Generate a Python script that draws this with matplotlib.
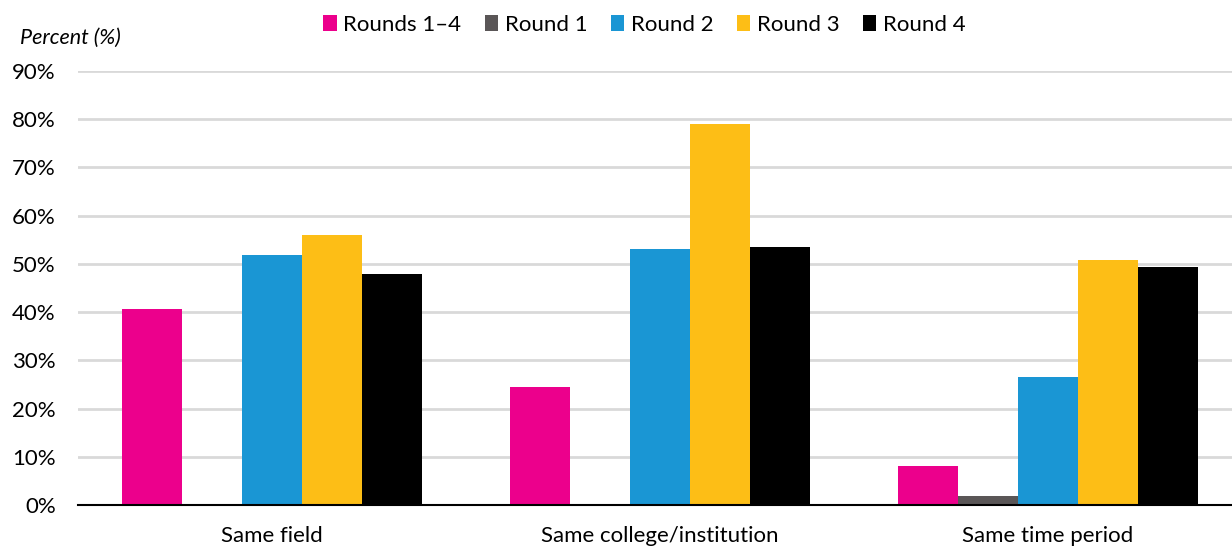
import matplotlib
matplotlib.use("Agg")
import matplotlib.pyplot as plt
import numpy as np
from matplotlib.patches import Patch

plt.rcParams["font.family"] = ["Lato", "DejaVu Sans"]

categories = ["Same field", "Same college/institution", "Same time period"]
series_names = ["Rounds 1\u20134", "Round 1", "Round 2", "Round 3", "Round 4"]
rounds_1_4 = [40.6, 24.5, 8.1]
round_1 = [np.nan, np.nan, 1.9]
round_2 = [51.8, 53.1, 26.6]
round_3 = [56.0, 79.0, 50.8]
round_4 = [47.8, 53.5, 49.3]
colors = ["#EC008C", "#5A5657", "#1A96D4", "#FDBE16", "#000000"]

series = [rounds_1_4, round_1, round_2, round_3, round_4]

fig = plt.figure(figsize=(12.32, 5.46), dpi=100)
# axes runs a little past the right edge so the last group is cut like the others
ax = fig.add_axes([0.0633, 0.0745, 0.9448, 0.796])

x = np.arange(len(categories))
width = 0.155
for i, (vals, col) in enumerate(zip(series, colors)):
    offs = (i - 2) * width
    ax.bar(x + offs, vals, width=width, color=col, zorder=3)

ax.set_xlim(-0.5, len(categories) - 0.5)
ax.set_ylim(0, 90)
ax.set_yticks(np.arange(0, 91, 10))
ax.set_yticklabels([f"{v}%" for v in range(0, 91, 10)], fontsize=16)
ax.set_xticks(x)
ax.set_xticklabels(categories, fontsize=16)
ax.tick_params(axis="y", length=0, pad=16)
ax.tick_params(axis="x", length=0, pad=15)
ax.yaxis.grid(True, color="#D9D9D9", linewidth=2, zorder=0)
for s in ("top", "right", "left"):
    ax.spines[s].set_visible(False)
ax.spines["bottom"].set_color("black")
ax.spines["bottom"].set_linewidth(1.5)
ax.spines["bottom"].set_zorder(4)

fig.text(0.016, 0.93, "Percent (%)", fontsize=15.5, style="italic", va="center", ha="left")

handles = [Patch(facecolor=c, edgecolor="none") for c in colors]
fig.legend(handles, series_names, loc="center", bbox_to_anchor=(0.523, 0.955),
           ncol=5, frameon=False, fontsize=16, handlelength=0.6, handleheight=0.7,
           handletextpad=0.3, columnspacing=1.05)

fig.savefig("out.png", dpi=100)
